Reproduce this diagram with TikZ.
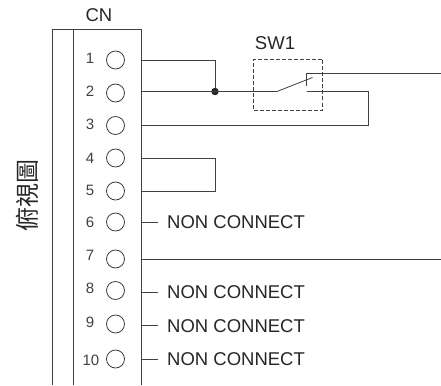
\documentclass[tikz,border=0pt]{standalone}
\usepackage{fontspec}
\setmainfont{Liberation Sans}
\newfontfamily\cjk{Noto Sans CJK TC}
\usepackage{tikz}
\usetikzlibrary{calc}
\definecolor{wirecolor}{gray}{0.25}
\tikzset{
    pin/.style={draw=wirecolor, circle, line width=0.8pt, minimum size=18pt, inner sep=0pt},
    num/.style={inner sep=0pt, text=wirecolor, font=\fontsize{15}{16}\selectfont},
    lbl/.style={inner sep=0pt, text=black!85, font=\fontsize{18.5}{20}\selectfont},
    wire/.style={draw=wirecolor, line width=0.8pt},
}

\begin{document}
\begin{tikzpicture}[x=1pt, y=-1pt]
    \useasboundingbox (0, 0) rectangle (441, 385);

    % connector body
    \coordinate (bl) at (52, 385);
    \coordinate (tl) at (52, 29);
    \coordinate (tr) at (141, 29);
    \coordinate (br) at (141, 385);
    \coordinate (il) at (73, 385);
    \coordinate (it) at (73, 29);
    \draw[wire] (bl) -- (tl) -- (tr) -- (br);
    \draw[wire] (il) -- (it);
    \node[lbl] at (99, 15) (cn) {CN};
    \node[inner sep=0pt, text=black!85, rotate=90, font=\cjk\fontsize{24}{25}\selectfont] at (27.5, 195.5) (view) {俯視圖};

    % pins
    \node[pin] at (115.5, 60) (c1) {};
    \node[pin] at (115.5, 93) (c2) {};
    \node[pin] at (115.5, 125.5) (c3) {};
    \node[pin] at (115.5, 158) (c4) {};
    \node[pin] at (115.5, 191) (c5) {};
    \node[pin] at (115.5, 222) (c6) {};
    \node[pin] at (115.5, 259) (c7) {};
    \node[pin] at (115.5, 290.5) (c8) {};
    \node[pin] at (115.5, 324) (c9) {};
    \node[pin] at (115.5, 359) (c10) {};

    \node[num] at (90, 58) (n1) {1};
    \node[num] at (90, 91) (n2) {2};
    \node[num] at (90, 124.5) (n3) {3};
    \node[num] at (90, 158.5) (n4) {4};
    \node[num] at (90, 190) (n5) {5};
    \node[num] at (90, 222) (n6) {6};
    \node[num] at (90, 255) (n7) {7};
    \node[num] at (90, 288) (n8) {8};
    \node[num] at (90, 322) (n9) {9};
    \node[num] at (91, 360) (n10) {10};

    % terminals on the right edge
    \coordinate (t1) at (141, 60);
    \coordinate (t2) at (141, 91.5);
    \coordinate (t3) at (141, 125.5);
    \coordinate (t4) at (141, 158);
    \coordinate (t5) at (141, 191);
    \coordinate (t6) at (141, 222);
    \coordinate (t7) at (141, 259);
    \coordinate (t8) at (141, 292);
    \coordinate (t9) at (141, 325);
    \coordinate (t10) at (141, 359);

    % switch
    \node[draw=wirecolor, dash pattern=on 4pt off 2pt, line width=0.7pt, minimum width=68.5pt, minimum height=51pt, inner sep=0pt] at (287.75, 84.5) (sw) {};
    \node[lbl] at (275, 43) (swl) {SW1};
    \coordinate (hinge) at (277, 91.5);
    \coordinate (blade) at (312.5, 77.5);
    \coordinate (cu) at (306.5, 73);
    \coordinate (cb) at (306.5, 86);
    \coordinate (cl) at (306.5, 91.5);
    \coordinate (out1) at (441, 73);
    \coordinate (out2) at (441, 259);
    \coordinate (ret) at (368, 91.5);
    \coordinate (retb) at (368, 125.5);

    \coordinate (j1) at (215, 60);
    \node[circle, fill=black!85, minimum size=7.5pt, inner sep=0pt] at (215, 91.5) (dot) {};
    \coordinate (j4) at (215, 158);
    \coordinate (j5) at (215, 191);

    \draw[wire] (t1) -- (j1) -- (dot);
    \draw[wire] (t2) -- (hinge) -- (blade);
    \draw[wire] (cb) -- (cu) -- (out1);
    \draw[wire] (cl) -- (ret) -- (retb) -- (t3);
    \draw[wire] (t4) -- (j4) -- (j5) -- (t5);
    \draw[wire] (t7) -- (out2);

    % unused pins
    \node[lbl, anchor=west] at (167, 222.5) (nc6) {NON CONNECT};
    \node[lbl, anchor=west] at (167, 292.5) (nc8) {NON CONNECT};
    \node[lbl, anchor=west] at (167, 326) (nc9) {NON CONNECT};
    \node[lbl, anchor=west] at (167, 359.5) (nc10) {NON CONNECT};
    \coordinate (s6) at (158, 222);
    \coordinate (s8) at (158, 292);
    \coordinate (s9) at (158, 325);
    \coordinate (s10) at (158, 359);
    \draw[wire] (t6) -- (s6);
    \draw[wire] (t8) -- (s8);
    \draw[wire] (t9) -- (s9);
    \draw[wire] (t10) -- (s10);
\end{tikzpicture}
\end{document}
